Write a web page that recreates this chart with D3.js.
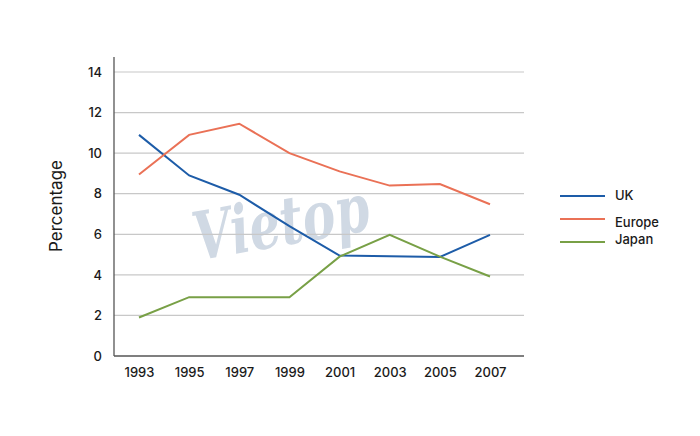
<!DOCTYPE html>
<html><head><meta charset="utf-8">
<script src="https://cdn.jsdelivr.net/npm/d3@7"></script>
<style>body{margin:0;background:#fff}svg{display:block}text{font-family:Inter,"Noto Sans",sans-serif}</style>
</head><body><svg id="c" width="700" height="436"></svg>
<script>
const years = ["1993","1995","1997","1999","2001","2003","2005","2007"];
const uk = [10.9, 8.9, 7.95, 6.4, 4.95, 4.92, 4.88, 5.97];
const europe = [8.95, 10.9, 11.45, 10.0, 9.1, 8.4, 8.48, 7.48];
const japan = [1.9, 2.9, 2.9, 2.9, 4.9, 5.97, 4.9, 3.92];
const yTicks = [0,2,4,6,8,10,12,14];
const seriesNames = ["UK","Europe","Japan"];
const seriesColors = ["#1d5ca8","#ea7156","#78a046"];

const svg = d3.select("#c");
const x = d3.scalePoint().domain(years).range([139, 490]);
const y = d3.scaleLinear().domain([0,14]).range([356, 72]);

// watermark
svg.append("text").attr("x", 0).attr("y", 0).attr("text-anchor","middle")
  .attr("transform","translate(285,245) rotate(-10) scale(0.85,1.15)")
  .style("font-family","'DejaVu Serif',serif").style("font-style","italic").style("font-weight","bold")
  .style("font-size","58px").attr("fill","#d0d9e4").text("Vietop");

// gridlines
svg.append("g").selectAll("line").data(yTicks.filter(d=>d>0)).join("line")
  .attr("x1",114).attr("x2",524).attr("y1",d=>y(d)).attr("y2",d=>y(d))
  .attr("stroke","#c8c8c8").attr("stroke-width",1.2);

// axes
const yAxis = svg.append("g").attr("transform","translate(114,0)")
  .call(d3.axisLeft(y).tickValues(yTicks).tickSize(0).tickPadding(12));
yAxis.select(".domain").remove();
yAxis.selectAll("text").style("font-size","13px").style("font-weight","500").attr("fill","#1a1a1a");
svg.append("line").attr("x1",114).attr("x2",114).attr("y1",57).attr("y2",356).attr("stroke","#555").attr("stroke-width",1.3);
const xAxis = svg.append("g").attr("transform","translate(0,356)")
  .call(d3.axisBottom(x).tickSize(0).tickPadding(12));
xAxis.select(".domain").remove();
xAxis.selectAll("text").style("font-size","13px").style("font-weight","500").attr("fill","#1a1a1a");
svg.append("line").attr("x1",114).attr("x2",524).attr("y1",356).attr("y2",356).attr("stroke","#555").attr("stroke-width",1.3);

svg.append("text").attr("transform","translate(62,206) rotate(-90)").attr("text-anchor","middle")
  .style("font-size","17px").attr("fill","#1a1a1a").text("Percentage");

const line = d3.line().x((d,i)=>x(years[i])).y(d=>y(d));
[uk, europe, japan].forEach((s,k)=>{
  svg.append("path").datum(s).attr("d",line).attr("fill","none")
    .attr("stroke",seriesColors[k]).attr("stroke-width",2);
});

// legend
const ly = [196, 219, 242];
const ty = [195, 222, 239];
seriesNames.forEach((n,k)=>{
  svg.append("line").attr("x1",560).attr("x2",605).attr("y1",ly[k]).attr("y2",ly[k])
    .attr("stroke",seriesColors[k]).attr("stroke-width",2);
  svg.append("text").attr("x",615).attr("y",ty[k]).attr("dy","0.35em").style("font-size","13px")
    .style("font-weight","500").attr("fill","#1a1a1a").text(n);
});
</script></body></html>
